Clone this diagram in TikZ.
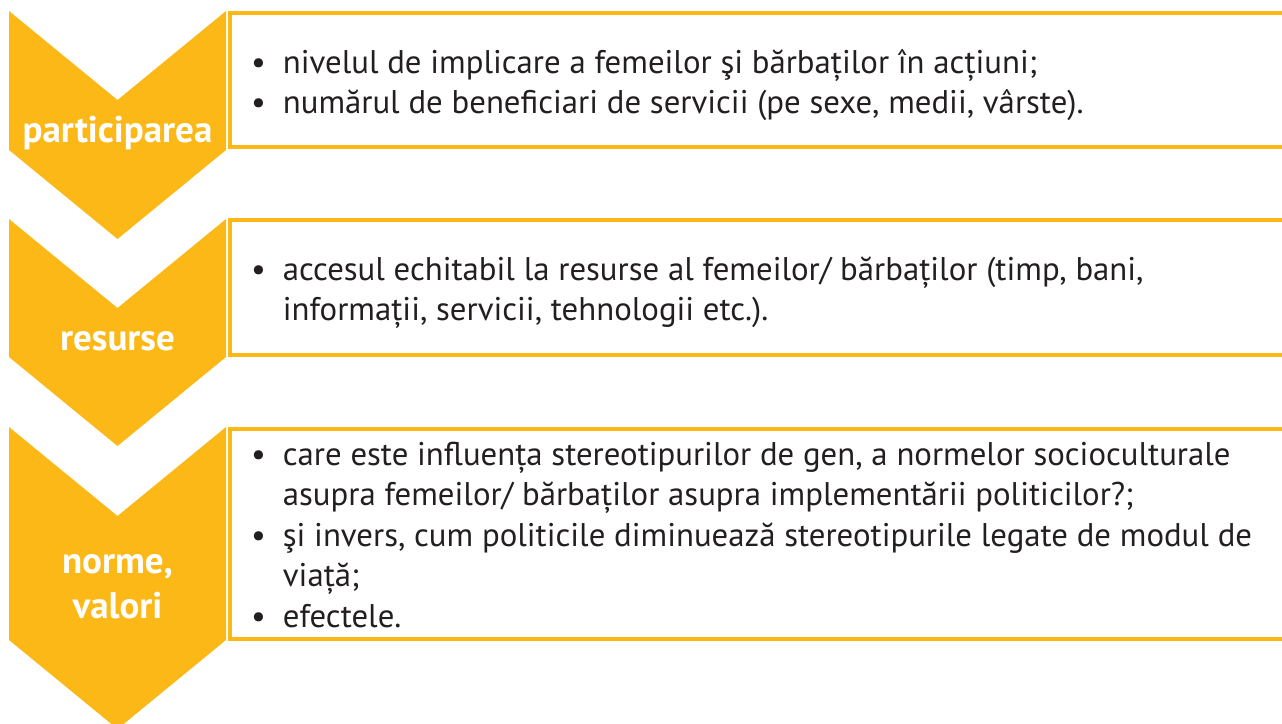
\documentclass[tikz,border=0pt]{standalone}
\usepackage{fontspec}
\setmainfont{PT Sans}
\definecolor{gelb}{HTML}{FBB817}
\definecolor{ink}{HTML}{231F20}
\newcommand{\bul}{\makebox[32.7pt][l]{\hspace*{1pt}\textbullet}}
\newcommand{\ind}{\hspace*{32.7pt}}
\begin{document}
\begin{tikzpicture}[x=1pt,y=-1pt,
    chev/.style={fill=gelb},
    box/.style={draw=gelb,line width=4pt},
    lbl/.style={text=white,anchor=base,inner sep=0,font=\bfseries\fontsize{37}{45}\selectfont},
    txt/.style={text=ink,anchor=base west,inner sep=0,font=\fontsize{32.8}{40.5}\selectfont}]
    \useasboundingbox (0,0) rectangle (1282,723);
    \clip (0,0) rectangle (1282,723);
    \fill[chev] (9,11) -- (117.5,100) -- (226,11) -- (226,150) -- (117.5,239) -- (9,150) -- cycle;
    \fill[chev] (9,219) -- (117.5,308) -- (226,219) -- (226,357) -- (117.5,446) -- (9,357) -- cycle;
    \fill[chev] (9,427) -- (117.5,516) -- (226,427) -- (226,640) -- (117.5,729) -- (9,640) -- cycle;
    \draw[box] (1300,13) -- (229.5,13) -- (229.5,146.5) -- (1300,146.5);
    \draw[box] (1300,220) -- (229.5,220) -- (229.5,355) -- (1300,355);
    \draw[box] (1300,429) -- (229.5,429) -- (229.5,639) -- (1300,639);
    \node[lbl] (c0) at (117.5,142) {participarea};
    \node[lbl] (c1) at (117.5,350) {resurse};
    \node[lbl] (c2) at (117.5,573) {\parbox[t]{210pt}{\centering norme,\\valori}};
    \node[txt] (t0) at (250,73) {\parbox[t]{1020pt}{\bul nivelul de implicare a femeilor şi bărbaților în acțiuni;\\
        \bul numărul de beneficiari de servicii (pe sexe, medii, vârste).}};
    \node[txt] (t1) at (250,280) {\parbox[t]{1020pt}{\bul accesul echitabil la resurse al femeilor/ bărbaților (timp, bani,\\
        \ind informații, servicii, tehnologii etc.).}};
    \node[txt] (t2) at (250,465) {\parbox[t]{1020pt}{\bul care este influența stereotipurilor de gen, a normelor socioculturale\\
        \ind asupra femeilor/ bărbaților asupra implementării politicilor?;\\
        \bul şi invers, cum politicile diminuează stereotipurile legate de modul de\\
        \ind viață;\\
        \bul efectele.}};
\end{tikzpicture}
\end{document}
